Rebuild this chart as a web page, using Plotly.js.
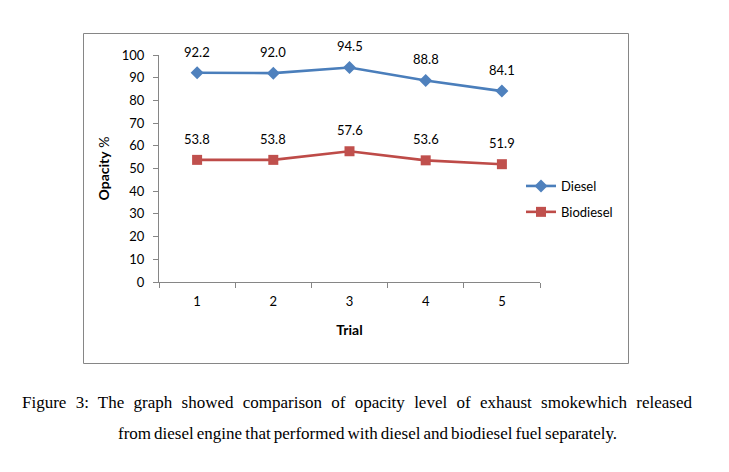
<!DOCTYPE html>
<html>
<head>
<meta charset="utf-8">
<script src="https://cdn.plot.ly/plotly-3.0.1.min.js"></script>
<style>
  html, body { margin: 0; padding: 0; background: #fff; }
  #wrap { position: relative; width: 729px; height: 472px; overflow: hidden; }
  #chart { position: absolute; left: 0; top: 0; width: 729px; height: 472px; }
  .cap { position: absolute; font-family: "Liberation Serif", "Times New Roman", serif; font-size: 17px; color: #000; white-space: nowrap; }
  #cap1 { left: 22px; top: 393px; width: 670px; text-align: justify; text-align-last: justify; white-space: normal; }
  #cap2 { left: 118px; top: 424px; word-spacing: -1.2px; }
</style>
</head>
<body>
<div id="wrap">
  <div id="chart"></div>
  <div class="cap" id="cap1">Figure 3: The graph showed comparison of opacity level of exhaust smokewhich released</div>
  <div class="cap" id="cap2">from diesel engine that performed with diesel and biodiesel fuel separately.</div>
</div>
<script>
const trials = ["1", "2", "3", "4", "5"];
const diesel = [92.2, 92.0, 94.5, 88.8, 84.1];
const biodiesel = [53.8, 53.8, 57.6, 53.6, 51.9];
const seriesNames = ["Diesel", "Biodiesel"];
const yTicks = [0, 10, 20, 30, 40, 50, 60, 70, 80, 90, 100];

const W = 729, H = 472;
const L = 159, R = 540, T = 55, B = 282;
const pw = R - L, ph = B - T;
const font = "Lato, 'Open Sans', sans-serif";
const fs = 13;

const traces = [
  {
    x: trials, y: diesel, name: seriesNames[0], type: "scatter", mode: "lines+markers",
    line: { color: "#4A7EBB", width: 2.6 },
    marker: { symbol: "diamond", size: 10, color: "#4F81BD" },
    legendgroup: "a"
  },
  {
    x: trials, y: biodiesel, name: seriesNames[1], type: "scatter", mode: "lines+markers",
    line: { color: "#BE4B48", width: 2.6 },
    marker: { symbol: "square", size: 10, color: "#C0504D" },
    legendgroup: "b"
  }
];

const annotations = [];
[diesel, biodiesel].forEach(arr => {
  arr.forEach((v, i) => {
    annotations.push({
      x: i, y: v, xref: "x", yref: "y", text: v.toFixed(1),
      showarrow: false, yshift: 21, font: { family: font, size: fs, color: "#000" }
    });
  });
});

const px = v => (v - L) / pw;
const py = v => (B - v) / ph;

const layout = {
  width: W, height: H,
  margin: { l: L, r: W - R, t: T, b: H - B },
  paper_bgcolor: "rgba(0,0,0,0)",
  plot_bgcolor: "rgba(0,0,0,0)",
  font: { family: font, size: fs, color: "#000" },
  showlegend: true,
  legend: {
    x: px(521), y: py(171), xanchor: "left", yanchor: "top",
    font: { family: font, size: fs, color: "#000" },
    tracegroupgap: 6, bgcolor: "rgba(0,0,0,0)", itemwidth: 30
  },
  xaxis: {
    type: "category", range: [-0.5, 4.5],
    showline: true, linecolor: "#868686", linewidth: 1,
    ticks: "outside", tickson: "boundaries", ticklen: 5, tickcolor: "#868686",
    showgrid: false, zeroline: false, ticklabelstandoff: 7,
    tickfont: { family: font, size: fs },
    title: { text: "<b>Trial</b>", font: { family: font, size: 14 }, standoff: 17 }
  },
  yaxis: {
    range: [0, 100], tickvals: yTicks, ticktext: yTicks.map(String),
    showline: true, linecolor: "#868686", linewidth: 1,
    ticks: "outside", ticklen: 5, tickcolor: "#868686",
    showgrid: false, zeroline: false, ticklabelstandoff: 6,
    tickfont: { family: font, size: fs },
    title: { text: "<b>Opacity</b> %", font: { family: font, size: 14 }, standoff: 8 }
  },
  shapes: [{
    type: "rect", xref: "paper", yref: "paper",
    x0: px(83.5), x1: px(628.5), y0: py(363.5), y1: py(33.5),
    line: { color: "#868686", width: 1 }, fillcolor: "rgba(0,0,0,0)", layer: "below"
  }],
  annotations: annotations
};

Plotly.newPlot("chart", traces, layout, { displayModeBar: false, staticPlot: true });
</script>
</body>
</html>
